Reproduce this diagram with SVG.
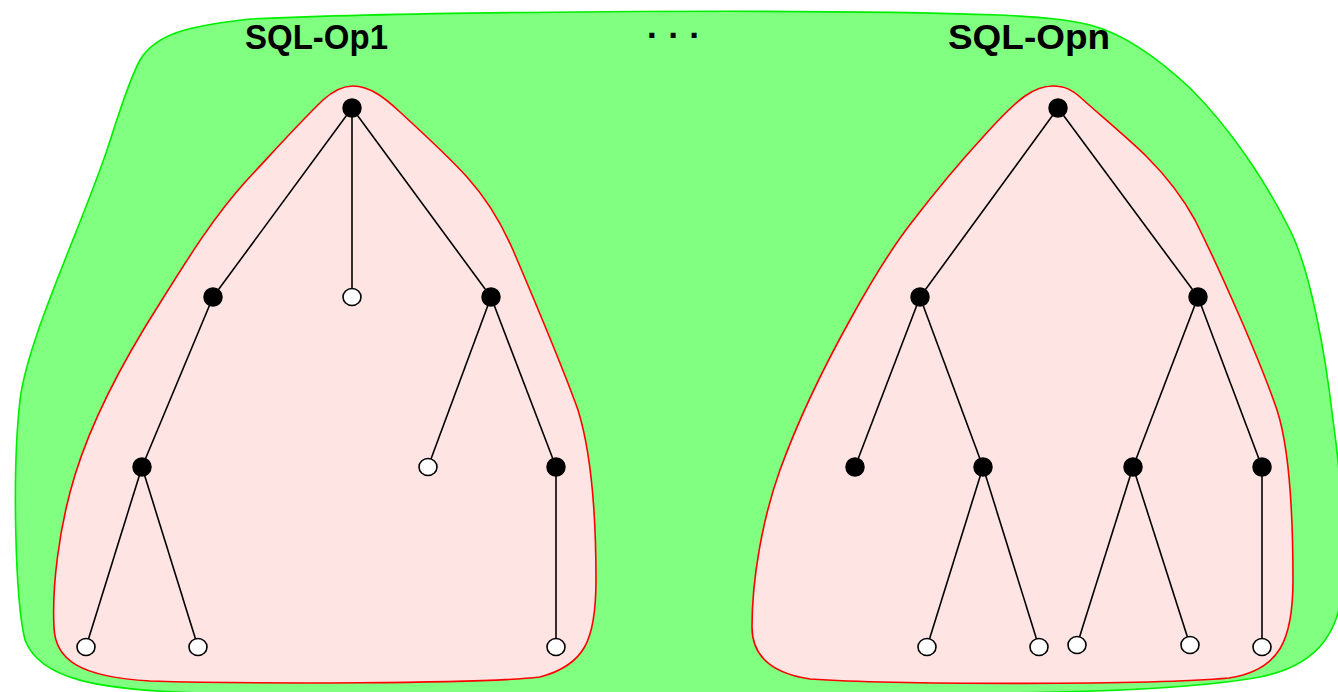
<svg xmlns="http://www.w3.org/2000/svg" width="1338" height="692" viewBox="0 0 1338 692">
<style>
.lbl{font-family:"Liberation Sans",Arial,sans-serif;font-weight:bold;font-size:35px;fill:#000}
.edge{stroke:#000;stroke-width:1.6;fill:none}
.full{fill:#000;stroke:#000;stroke-width:1.5}
.leaf{fill:#fff;stroke:#000;stroke-width:1.6}
</style>
<rect width="1338" height="692" fill="#fff"/>
<g id="outer">
<path d="M 20,400 C 27,340 80,230 107,150 C 118,117 128,82 140,60 C 155,35 185,26 250,19 C 400,12 800,8 1000,15 C 1040,17 1065,19 1090,25 C 1125,34 1160,60 1190,88 C 1230,128 1265,180 1290,230 C 1310,270 1325,350 1333,420 C 1340,470 1344,520 1344,570 C 1343,630 1320,665 1260,677 C 1200,688 1100,692 1000,693 L 200,693 C 100,690 40,680 25,640 C 15,600 12,470 20,400 Z" fill="#80ff80" stroke="#00ee00" stroke-width="1.6"/>
<text class="lbl" x="245" y="49" textLength="143" lengthAdjust="spacingAndGlyphs">SQL-Op1</text>
<text class="lbl" x="647" y="38" textLength="52" lengthAdjust="spacing">. . .</text>
<text class="lbl" x="948" y="49" textLength="162" lengthAdjust="spacingAndGlyphs">SQL-Opn</text>
</g>
<g id="region1">
<path d="M 353,86 C 370,86 385,98 400,112 C 425,135 450,158 467,177 C 485,197 500,220 513,250 C 530,290 560,360 578,410 C 592,455 596,520 596,580 C 596,640 585,665 540,677 C 480,684 250,684 150,681 C 80,677 55,660 54,627 C 52,590 58,530 75,475 C 95,410 130,350 160,303 C 190,255 215,215 247,180 C 275,150 300,122 323,100 C 333,91 343,86 353,86 Z" fill="#ffe4e4" stroke="#ff0000" stroke-width="1.6"/>
</g>
<g id="region2">
<path d="M 1053,86 C 1065,86 1072,90 1080,97 C 1100,115 1130,140 1147,157 C 1165,175 1183,198 1195,220 C 1220,270 1260,360 1277,410 C 1290,450 1293,520 1293,580 C 1293,640 1280,670 1229,678 C 1150,685 900,685 810,679 C 770,673 752,655 752,627 C 752,580 762,520 780,470 C 800,415 825,365 850,320 C 872,280 890,250 912,222 C 935,192 960,162 983,137 C 1000,118 1015,103 1025,96 C 1035,89 1043,86 1053,86 Z" fill="#ffe4e4" stroke="#ff0000" stroke-width="1.6"/>
</g>
<g id="connectors">
<line class="edge" x1="352" y1="108" x2="213" y2="297"/>
<line class="edge" x1="352" y1="108" x2="352" y2="297"/>
<line class="edge" x1="352" y1="108" x2="491" y2="297"/>
<line class="edge" x1="213" y1="297" x2="142" y2="467"/>
<line class="edge" x1="491" y1="297" x2="428" y2="467"/>
<line class="edge" x1="491" y1="297" x2="556" y2="467"/>
<line class="edge" x1="142" y1="467" x2="86" y2="647"/>
<line class="edge" x1="142" y1="467" x2="198" y2="647"/>
<line class="edge" x1="556" y1="467" x2="556" y2="647"/>
<line class="edge" x1="1058" y1="108" x2="920" y2="297"/>
<line class="edge" x1="1058" y1="108" x2="1198" y2="297"/>
<line class="edge" x1="920" y1="297" x2="855" y2="467"/>
<line class="edge" x1="920" y1="297" x2="983" y2="467"/>
<line class="edge" x1="1198" y1="297" x2="1133" y2="467"/>
<line class="edge" x1="1198" y1="297" x2="1262" y2="467"/>
<line class="edge" x1="983" y1="467" x2="927" y2="647"/>
<line class="edge" x1="983" y1="467" x2="1039" y2="647"/>
<line class="edge" x1="1133" y1="467" x2="1077" y2="645"/>
<line class="edge" x1="1133" y1="467" x2="1190" y2="645"/>
<line class="edge" x1="1262" y1="467" x2="1262" y2="647"/>
</g>
<g id="t1-root"><circle class="full" cx="352" cy="108" r="9"/></g>
<g id="t1-a"><circle class="full" cx="213" cy="297" r="9"/></g>
<g id="t1-b"><ellipse class="leaf" cx="352" cy="297" rx="9" ry="8.5"/></g>
<g id="t1-c"><circle class="full" cx="491" cy="297" r="9"/></g>
<g id="t1-d"><circle class="full" cx="142" cy="467" r="9"/></g>
<g id="t1-e"><ellipse class="leaf" cx="428" cy="467" rx="9" ry="8.5"/></g>
<g id="t1-f"><circle class="full" cx="556" cy="467" r="9"/></g>
<g id="t1-g"><ellipse class="leaf" cx="86" cy="647" rx="9" ry="8.5"/></g>
<g id="t1-h"><ellipse class="leaf" cx="198" cy="647" rx="9" ry="8.5"/></g>
<g id="t1-i"><ellipse class="leaf" cx="556" cy="647" rx="9" ry="8.5"/></g>
<g id="t2-root"><circle class="full" cx="1058" cy="108" r="9"/></g>
<g id="t2-a"><circle class="full" cx="920" cy="297" r="9"/></g>
<g id="t2-b"><circle class="full" cx="1198" cy="297" r="9"/></g>
<g id="t2-c"><circle class="full" cx="855" cy="467" r="9"/></g>
<g id="t2-d"><circle class="full" cx="983" cy="467" r="9"/></g>
<g id="t2-e"><circle class="full" cx="1133" cy="467" r="9"/></g>
<g id="t2-f"><circle class="full" cx="1262" cy="467" r="9"/></g>
<g id="t2-g"><ellipse class="leaf" cx="927" cy="647" rx="9" ry="8.5"/></g>
<g id="t2-h"><ellipse class="leaf" cx="1039" cy="647" rx="9" ry="8.5"/></g>
<g id="t2-i"><ellipse class="leaf" cx="1077" cy="645" rx="9" ry="8.5"/></g>
<g id="t2-j"><ellipse class="leaf" cx="1190" cy="645" rx="9" ry="8.5"/></g>
<g id="t2-k"><ellipse class="leaf" cx="1262" cy="647" rx="9" ry="8.5"/></g>
</svg>
